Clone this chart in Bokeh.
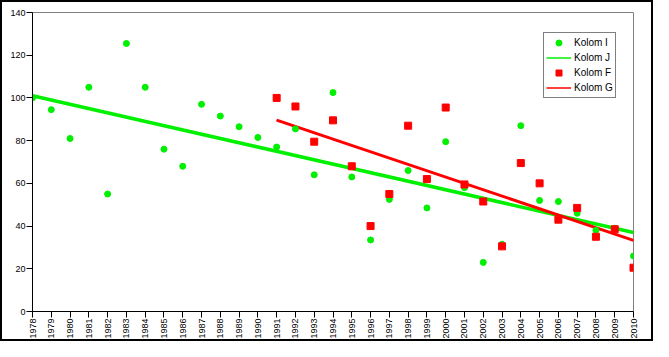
from bokeh.plotting import figure
from bokeh.models import ColumnDataSource, FixedTicker, Legend, LegendItem, Range1d
from bokeh.embed import file_html
from bokeh.resources import INLINE
import math

# ---- data ----
years_i = list(range(1978, 2011))
kolom_i = [100, 94.5, 81, 105, 55, 125.5, 105, 76, 68, 97, 91.5, 86.5, 81.5, 77, 85.5,
           64, 102.5, 63, 33.5, 52.5, 66, 48.5, 79.5, 58, 23, 31.5, 87, 52, 51.5, 46,
           38, 39, 26]
years_f = list(range(1991, 2011))
kolom_f = [100, 96, 79.5, 89.5, 68, 40, 55, 87, 62, 95.5, 59.5, 51.5, 30.5, 69.5, 60,
           43, 48.5, 35, 38.5, 20.5]
years_j = [1978, 2010]
kolom_j = [101, 37]
years_g = [1991, 2010]
kolom_g = [89.6, 33.3]
x_ticks = list(range(1978, 2011))
y_ticks = [0, 20, 40, 60, 80, 100, 120, 140]

GREEN = "#00f000"
RED = "#ff0000"
FONT = "Liberation Sans"

p = figure(width=653, height=341, output_backend="svg", toolbar_location=None,
           x_range=Range1d(1978, 2010), y_range=Range1d(0, 140),
           min_border_left=30, min_border_top=10, min_border_right=22, min_border_bottom=32)
p.styles = {"border": "2px solid black"}
p.outline_line_color = "#808080"
p.outline_line_width = 1
p.xgrid.visible = False
p.ygrid.visible = False

for ax in (p.xaxis[0], p.yaxis[0]):
    ax.major_label_text_font = FONT
    ax.major_label_text_font_size = "9px"
    ax.major_label_text_color = "black"
    ax.axis_line_color = "black"
    ax.major_tick_line_color = "black"
    ax.major_tick_out = 6
    ax.major_tick_in = 0
    ax.minor_tick_line_color = None
    ax.major_label_standoff = 1

p.xaxis.ticker = FixedTicker(ticks=x_ticks)
p.xaxis.major_label_orientation = math.pi / 2
p.yaxis.ticker = FixedTicker(ticks=y_ticks)

src_i = ColumnDataSource(dict(x=years_i, y=kolom_i))
src_f = ColumnDataSource(dict(x=years_f, y=kolom_f))
src_j = ColumnDataSource(dict(x=years_j, y=kolom_j))
src_g = ColumnDataSource(dict(x=years_g, y=kolom_g))

# thin lines (used for the legend), hidden under the thick trend lines
lj = p.line("x", "y", source=src_j, line_color=GREEN, line_width=1.5)
lg = p.line("x", "y", source=src_g, line_color=RED, line_width=1.5)
p.line("x", "y", source=src_j, line_color=GREEN, line_width=3.5)
p.line("x", "y", source=src_g, line_color=RED, line_width=3)
r_i = p.scatter("x", "y", source=src_i, marker="circle", size=6, fill_color=GREEN, line_color=GREEN)
r_f = p.scatter("x", "y", source=src_f, marker="square", size=7, fill_color=RED, line_color=RED)

legend = Legend(items=[
    LegendItem(label="Kolom I", renderers=[r_i]),
    LegendItem(label="Kolom J", renderers=[lj]),
    LegendItem(label="Kolom F", renderers=[r_f]),
    LegendItem(label="Kolom G", renderers=[lg]),
], location=(511, 213))
legend.label_text_font = FONT
legend.label_text_font_size = "10px"
legend.label_text_color = "black"
legend.border_line_color = "black"
legend.border_line_width = 1
legend.background_fill_alpha = 1
legend.padding = 2
legend.margin = 0
legend.spacing = 0
legend.glyph_width = 25
legend.glyph_height = 15
legend.label_height = 15
legend.label_standoff = 3
p.add_layout(legend, "center")

open("out.html", "w").write(file_html(p, INLINE))
